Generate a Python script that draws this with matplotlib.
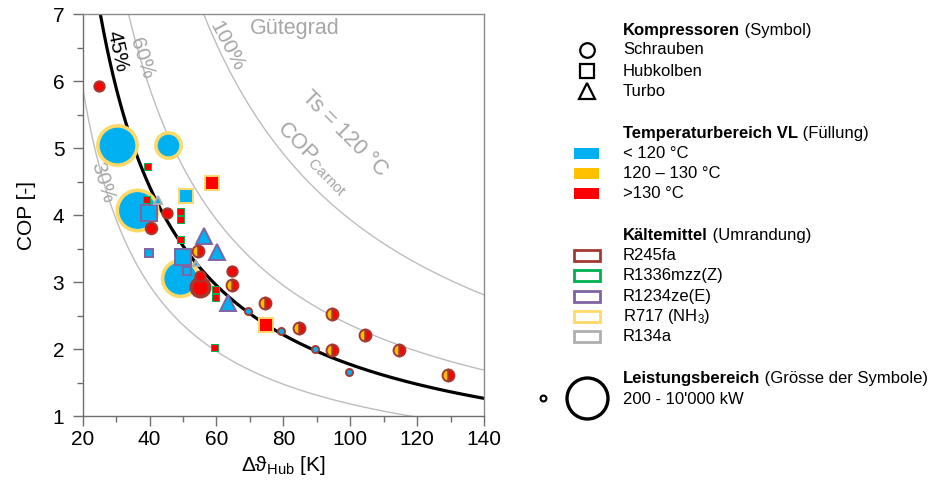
import numpy as np
import matplotlib
matplotlib.use('Agg')
import matplotlib.pyplot as plt
from matplotlib.patches import Rectangle

plt.rcParams['font.family'] = ['Liberation Sans', 'DejaVu Sans']
plt.rcParams['mathtext.fontset'] = 'custom'
plt.rcParams['mathtext.rm'] = 'Liberation Sans'
plt.rcParams['mathtext.it'] = 'Liberation Sans:italic'
plt.rcParams['mathtext.bf'] = 'Liberation Sans:bold'

# --- Daten ---
T_senke = 120.0   # degC
guetegrade = [0.30, 0.60, 1.00]
guetegrad_fit = 0.45

# Hub [K], COP, Kompressor, Temperaturbereich VL, Kaeltemittel, Leistung [kW]
hub = [24.9, 30.3, 45.5, 36.2, 49.0, 55.2, 55.2, 45.3, 40.4, 64.6,
       54.5, 64.6, 74.4, 84.6, 94.5, 94.5, 104.5, 114.5, 129.3,
       69.4, 79.4, 89.5, 99.6,
       39.9, 50.0, 51.2, 39.9, 50.8, 58.8, 74.7,
       39.3, 39.4, 49.5, 49.5, 49.5, 59.8, 59.8, 59.7,
       42.6, 56.3, 60.3, 63.5, 53.8]
cop = [5.93, 5.04, 5.04, 4.07, 3.06, 2.93, 3.09, 4.03, 3.80, 3.16,
       3.46, 2.96, 2.69, 2.31, 2.52, 1.99, 2.21, 1.99, 1.61,
       2.56, 2.27, 2.00, 1.66,
       4.03, 3.37, 3.17, 3.43, 4.28, 4.48, 2.36,
       4.22, 4.71, 4.05, 3.93, 3.62, 2.88, 2.76, 2.02,
       4.22, 3.69, 3.45, 2.68, 3.28]
kompressor = (['Schrauben'] * 23 + ['Hubkolben'] * 15 + ['Turbo'] * 5)
temperatur = ['>130', '<120', '<120', '<120', '<120', '>130', '>130', '>130', '>130', '>130',
              '120-130/>130', '120-130/>130', '120-130/>130', '120-130/>130', '120-130/>130',
              '120-130/>130', '120-130/>130', '120-130/>130', '120-130/>130',
              '<120', '<120', '<120', '<120',
              '<120', '<120', '<120', '<120', '<120', '>130', '>130',
              '>130', '>130', '>130', '>130', '>130', '>130', '>130', '>130',
              '<120', '<120', '<120', '<120', '<120']
kaeltemittel = ['R245fa', 'R717', 'R717', 'R717', 'R717', 'R245fa', 'R245fa', 'R245fa', 'R245fa', 'R245fa',
                'R245fa', 'R245fa', 'R245fa', 'R245fa', 'R245fa', 'R245fa', 'R245fa', 'R245fa', 'R245fa',
                'R245fa', 'R245fa', 'R245fa', 'R245fa',
                'R1234ze(E)', 'R1234ze(E)', 'R1234ze(E)', 'R1234ze(E)', 'R717', 'R717', 'R717',
                'R1336mzz(Z)', 'R1336mzz(Z)', 'R1336mzz(Z)', 'R1336mzz(Z)', 'R1336mzz(Z)',
                'R1336mzz(Z)', 'R1336mzz(Z)', 'R1336mzz(Z)',
                'R134a', 'R1234ze(E)', 'R1234ze(E)', 'R1234ze(E)', 'R134a']
leistung = [700, 9500, 4200, 10000, 8000, 2400, 700, 700, 850, 700,
            900, 900, 900, 900, 900, 900, 900, 900, 900,
            350, 350, 350, 350,
            1400, 1400, 350, 350, 1200, 1200, 1200,
            250, 250, 250, 250, 250, 250, 250, 250,
            350, 1400, 1400, 1400, 250]

kompressoren = ['Schrauben', 'Hubkolben', 'Turbo']
temp_labels = ['< 120 °C', '120 – 130 °C', '>130 °C']
km_labels = ['R245fa', 'R1336mzz(Z)', 'R1234ze(E)', 'R717 (NH$_3$)', 'R134a']
km_keys = ['R245fa', 'R1336mzz(Z)', 'R1234ze(E)', 'R717', 'R134a']

# --- Stil ---
symbol = {'Schrauben': 'o', 'Hubkolben': 's', 'Turbo': '^'}
c_blau, c_gelb, c_rot = '#00B0F0', '#FFC000', '#FF0000'
fuellung = {'<120': c_blau, '>130': c_rot, '120-130/>130': c_gelb}
rand = {'R245fa': '#A33A32', 'R1336mzz(Z)': '#00B050', 'R1234ze(E)': '#8064A2',
        'R717': '#FFD966', 'R134a': '#AFAFAF'}
grau_text = '#A6A6A6'
achse = '#6E6E6E'


def durchmesser(p):
    # Symbolgroesse in Pixel (200 kW klein ... 10'000 kW gross)
    return np.interp(np.sqrt(p), [np.sqrt(200), 100], [7, 44])


fig = plt.figure(figsize=(9.37, 4.86), dpi=100)
ax = fig.add_axes([82.7 / 937, 1 - 416 / 486, (484 - 82.7) / 937, (416 - 14) / 486])

T_s = T_senke + 273.15
x = np.linspace(20, 140, 500)
for g in guetegrade:
    ax.plot(x, g * T_s / x, color='#BDBDBD', lw=1.0, zorder=1)
ax.plot(x, guetegrad_fit * T_s / x, color='black', lw=2.3, zorder=2)

# Punkte: grosse zuerst
reihenfolge = np.argsort(-np.array(leistung), kind='stable')
for i in reihenfolge:
    d = durchmesser(leistung[i])
    mew = 1.4 if d < 20 else 2.6
    ms = (d - mew / 0.72) * 0.72
    kw = dict(marker=symbol[kompressor[i]], ms=ms, mew=mew, ls='none',
              mec=rand[kaeltemittel[i]], zorder=3 + 1.0 / d)
    if temperatur[i] == '120-130/>130':
        ax.plot(hub[i], cop[i], fillstyle='left', mfc=c_gelb, markerfacecoloralt=c_rot, **kw)
    else:
        ax.plot(hub[i], cop[i], mfc=fuellung[temperatur[i]], **kw)
        if kompressor[i] == 'Hubkolben' and kaeltemittel[i] == 'R1336mzz(Z)':
            ax.plot(hub[i], cop[i], marker='s', ms=ms, mew=0, ls='none',
                    mfc=fuellung[temperatur[i]], zorder=3.5)

ax.set_xlim(20, 140)
ax.set_ylim(1, 7)
ax.set_xticks(np.arange(20, 141, 20))
ax.set_xticks(np.arange(30, 140, 20), minor=True)
ax.set_yticks(np.arange(1, 8, 1))
ax.set_yticks(np.arange(1.5, 7, 1), minor=True)
ax.tick_params(which='major', length=7.2, width=1, color=achse, labelsize=15, pad=3)
ax.tick_params(axis='y', which='major', pad=6)
ax.tick_params(which='minor', length=4, width=1, color=achse)
for s in ax.spines.values():
    s.set_color(achse)
    s.set_linewidth(1)
ax.spines['top'].set_color('#8C8C8C')
ax.spines['right'].set_color('#8C8C8C')

ax.set_ylabel('COP [-]', fontsize=15)
ax.yaxis.set_label_coords(-0.116, 0.5)
ax.set_xlabel('Δϑ$_{\\mathrm{Hub}}$ [K]', fontsize=15)
ax.xaxis.set_label_coords(0.5, -0.095)

# Kurvenbeschriftung
ax.text(30.4, 6.45, '45%', rotation=-78, fontsize=15, color='black',
        ha='center', va='center', rotation_mode='anchor')
ax.text(37.7, 6.34, '60%', rotation=-72, fontsize=15, color=grau_text,
        ha='center', va='center', rotation_mode='anchor')
ax.text(63.2, 6.52, '100%', rotation=-62, fontsize=15, color=grau_text,
        ha='center', va='center', rotation_mode='anchor')
ax.text(26.0, 4.48, '30%', rotation=-73, fontsize=15, color=grau_text,
        ha='center', va='center', rotation_mode='anchor')
ax.text(69.9, 6.78, 'Gütegrad', fontsize=15.5, color=grau_text, ha='left', va='center')
ax.text(98.4, 5.22, 'Ts = 120 °C', rotation=-45, fontsize=15.5, color=grau_text,
        ha='center', va='center', rotation_mode='anchor')
ax.text(89.0, 4.85, 'COP$_{\\mathrm{Carnot}}$', rotation=-45, fontsize=15.5, color=grau_text,
        ha='center', va='center', rotation_mode='anchor')

# --- Legende (Pixelkoordinaten) ---
lg = fig.add_axes([0, 0, 1, 1])
lg.set_xlim(0, 937)
lg.set_ylim(486, 0)
lg.axis('off')
fs = 12


def titel(y, fett, normal):
    t = lg.text(623, y, fett, fontweight='bold', fontsize=fs, va='center')
    lg.annotate(' ' + normal, xy=(1, 0), xycoords=t, va='bottom', ha='left', fontsize=fs)


titel(31, 'Kompressoren', '(Symbol)')
for k, y, m in zip(kompressoren, [50, 71, 91], [10.5, 10.5, 11]):
    lg.plot(587, y, marker=symbol[k], ms=m, mfc='none', mec='black', mew=1.6, ls='none')
    lg.text(623, y, k, fontsize=fs, va='center')

titel(133, 'Temperaturbereich VL', '(Füllung)')
for c, lab, y in zip([c_blau, c_gelb, c_rot], temp_labels, [153, 173, 193]):
    lg.add_patch(Rectangle((574, y - 5.5), 25, 11, color=c, lw=0))
    lg.text(623, y, lab, fontsize=fs, va='center')

titel(235, 'Kältemittel', '(Umrandung)')
for key, lab, y in zip(km_keys, km_labels, [255, 275, 296, 316, 336]):
    lg.add_patch(Rectangle((574, y - 5.5), 26, 11, facecolor='none', edgecolor=rand[key], lw=2))
    lg.text(623, y, lab, fontsize=fs, va='center')

titel(378, 'Leistungsbereich', '(Grösse der Symbole)')
lg.plot(543, 398, marker='o', ms=4.2, mfc='none', mec='black', mew=1.5, ls='none')
lg.plot(587, 398, marker='o', ms=29.5, mfc='none', mec='black', mew=2.4, ls='none')
lg.text(623, 399, "200 - 10'000 kW", fontsize=fs, va='center')

fig.savefig('out.png', dpi=100)
